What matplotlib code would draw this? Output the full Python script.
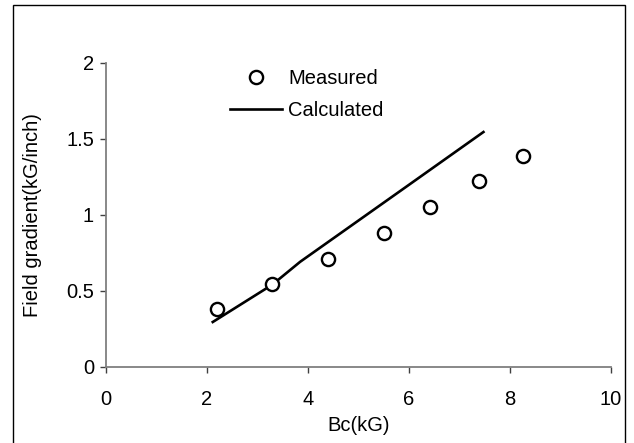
import numpy as np
import matplotlib.pyplot as plt
from matplotlib.patches import Rectangle

plt.rcParams['font.family'] = ['Liberation Sans', 'DejaVu Sans']

# measured points
bc_meas = [2.2, 3.3, 4.4, 5.52, 6.42, 7.39, 8.26]
grad_meas = [0.378, 0.544, 0.708, 0.878, 1.049, 1.22, 1.386]

# calculated curve
bc_calc = [2.12, 3.3, 3.85, 5.96, 7.48]
grad_calc = [0.294, 0.54, 0.69, 1.186, 1.544]

x_ticks = [0, 2, 4, 6, 8, 10]
y_ticks = [0, 0.5, 1, 1.5, 2]
y_tick_labels = ["0", "0.5", "1", "1.5", "2"]

FS = 14.5
W, H = 634, 443
fig = plt.figure(figsize=(W / 100, H / 100), dpi=100)
ax = fig.add_axes([105.7 / W, 1 - 366.7 / H, 505 / W, 304 / H])

# figure border
fig.patches.append(Rectangle((13 / W, -0.02), 612 / W, 1.02 - 5 / H,
                             transform=fig.transFigure, fill=False,
                             edgecolor='black', linewidth=1.0))

ax.plot(bc_calc, grad_calc, color='black', linewidth=1.9, label='Calculated')
ax.plot(bc_meas, grad_meas, linestyle='none', marker='o', markersize=9.5,
        markerfacecolor='white', markeredgecolor='black', markeredgewidth=1.7,
        label='Measured')

ax.set_xlim(0, 10)
ax.set_ylim(0, 2)
ax.set_xticks(x_ticks)
ax.set_yticks(y_ticks)
ax.set_yticklabels(y_tick_labels)

for s in ['top', 'right']:
    ax.spines[s].set_visible(False)
for s in ['left', 'bottom']:
    ax.spines[s].set_color('#7f7f7f')
    ax.spines[s].set_linewidth(1.3)

ax.tick_params(axis='both', direction='out', length=4.5, width=1.0,
               color='#404040', labelsize=FS)
ax.tick_params(axis='x', pad=12)
ax.tick_params(axis='y', pad=4)

ax.set_xlabel('Bc(kG)', fontsize=FS, labelpad=5)
ax.set_ylabel('Field gradient(kG/inch)', fontsize=FS, labelpad=17)

handles, labels = ax.get_legend_handles_labels()
ax.legend(handles[::-1], labels[::-1], loc='upper left',
          bbox_to_anchor=(230 / W, 1 - 69.5 / H), bbox_transform=fig.transFigure,
          frameon=False, fontsize=FS, handlelength=2.6, handletextpad=0.3,
          labelspacing=0.62, borderpad=0, borderaxespad=0)

fig.savefig('out.png', dpi=100)
